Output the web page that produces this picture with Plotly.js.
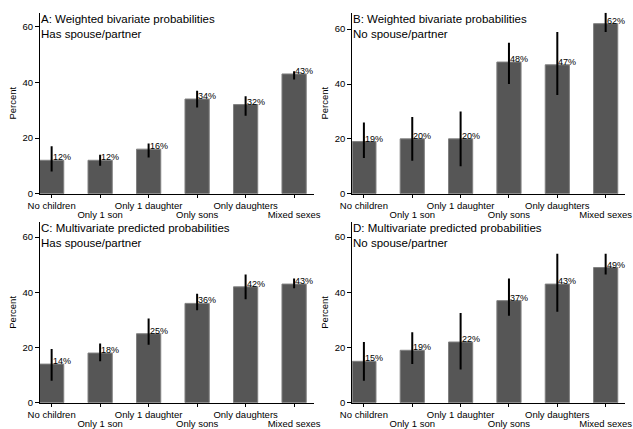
<!DOCTYPE html>
<html>
<head>
<meta charset="utf-8">
<script src="https://cdn.plot.ly/plotly-3.0.1.min.js"></script>
<style>html,body{margin:0;padding:0;background:#fff;}#chart{width:633px;height:429px;}</style>
</head>
<body>
<div id="chart"></div>
<script>
const categories = ['No children', 'Only 1 son', 'Only 1 daughter', 'Only sons', 'Only daughters', 'Mixed sexes'];

const titleA = 'A: Weighted bivariate probabilities<br>Has spouse/partner';
const valsA = [12, 12, 16, 34, 32, 43];
const loA   = [8, 10, 13, 31, 28, 41];
const hiA   = [17, 14, 18, 37, 35, 44];

const titleB = 'B: Weighted bivariate probabilities<br>No spouse/partner';
const valsB = [19, 20, 20, 48, 47, 62];
const loB   = [13, 12, 10, 40, 36, 59];
const hiB   = [26, 28, 30, 55, 59, 66];

const titleC = 'C: Multivariate predicted probabilities<br>Has spouse/partner';
const valsC = [14, 18, 25, 36, 42, 43];
const loC   = [8, 15, 21, 33.5, 37.5, 41.5];
const hiC   = [19.5, 21.5, 30.5, 39.5, 46.5, 45];

const titleD = 'D: Multivariate predicted probabilities<br>No spouse/partner';
const valsD = [15, 19, 22, 37, 43, 49];
const loD   = [8, 14, 12, 31.5, 33, 46.5];
const hiD   = [22, 25.5, 32.5, 45, 54, 54];

const yTickVals = [0, 20, 40, 60];

const W = 633, H = 429;
const FONT = 'Liberation Sans, Arial, sans-serif';

const panels = [
  {title: titleA, vals: valsA, lo: loA, hi: hiA, x: [40, 313.5], y: [12.7, 193.7], ymax: 65},
  {title: titleB, vals: valsB, lo: loB, hi: hiB, x: [352.3, 625], y: [12.7, 193.7], ymax: 66},
  {title: titleC, vals: valsC, lo: loC, hi: hiC, x: [40, 313.5], y: [222, 402.7], ymax: 65.5},
  {title: titleD, vals: valsD, lo: loD, hi: hiD, x: [352.3, 625], y: [222, 402.7], ymax: 65.5}
];

const traces = [];
const annotations = [];
const layout = {
  width: W, height: H,
  margin: {l: 0, r: 0, t: 0, b: 0},
  paper_bgcolor: '#fff', plot_bgcolor: '#fff',
  showlegend: false,
  font: {family: FONT, color: '#000', size: 9.5},
  annotations: annotations,
  bargap: 0.5
};

const xRange = [-0.24, 5.4];

panels.forEach((p, k) => {
  const n = k + 1;
  const xs = n === 1 ? '' : String(n);
  const xa = 'x' + xs, ya = 'y' + xs;
  const ovN = n + 4;
  traces.push({
    type: 'bar',
    x: categories,
    y: p.vals,
    xaxis: xa, yaxis: ya,
    width: 0.5,
    marker: {color: '#565656', line: {color: '#808080', width: 1}},
    error_y: {
      type: 'data', symmetric: false,
      array: p.hi.map((h, i) => h - p.vals[i]),
      arrayminus: p.lo.map((l, i) => p.vals[i] - l),
      color: '#000', thickness: 2, width: 0
    },
    hoverinfo: 'skip'
  });
  // invisible companion trace so the staggered-label axis is drawn
  traces.push({
    type: 'scatter', mode: 'markers',
    x: categories, y: p.vals,
    xaxis: 'x' + ovN, yaxis: ya,
    marker: {opacity: 0, size: 1},
    hoverinfo: 'skip'
  });
  const xdom = [p.x[0] / W, p.x[1] / W];
  const ydom = [1 - p.y[1] / H, 1 - p.y[0] / H];
  layout['xaxis' + xs] = {
    domain: xdom, anchor: ya, type: 'category', range: xRange,
    categoryorder: 'array', categoryarray: categories,
    tickmode: 'array', tickvals: categories,
    ticktext: categories.map((c, i) => i % 2 === 0 ? c : ''),
    ticks: 'outside', ticklen: 3, tickwidth: 1, tickcolor: '#000',
    showline: true, linecolor: '#000', linewidth: 1,
    showgrid: false, zeroline: false,
    tickfont: {family: FONT, size: 9.5, color: '#000'},
    fixedrange: true
  };
  layout['xaxis' + ovN] = {
    overlaying: xa, anchor: ya, type: 'category', range: xRange,
    categoryorder: 'array', categoryarray: categories,
    tickmode: 'array', tickvals: categories.filter((c, i) => i % 2 === 1),
    ticktext: categories.filter((c, i) => i % 2 === 1),
    ticks: 'outside', ticklen: 12, tickcolor: 'rgba(0,0,0,0)',
    showline: false, showgrid: false, zeroline: false,
    tickfont: {family: FONT, size: 9.5, color: '#000'},
    fixedrange: true
  };
  layout['yaxis' + xs] = {
    domain: ydom, anchor: xa, range: [0, p.ymax],
    tickmode: 'array', tickvals: yTickVals,
    ticks: 'outside', ticklen: 4, tickwidth: 1, tickcolor: '#000',
    showline: true, linecolor: '#000', linewidth: 1,
    showgrid: false, zeroline: false,
    tickfont: {family: FONT, size: 9.5, color: '#000'},
    title: {text: 'Percent', font: {family: FONT, size: 9.5, color: '#000'}, standoff: 4},
    fixedrange: true
  };
  annotations.push({
    xref: 'paper', yref: 'paper', x: xdom[0], y: ydom[1],
    xanchor: 'left', yanchor: 'top', align: 'left', showarrow: false,
    xshift: 0, yshift: 1, borderpad: 0,
    text: p.title, font: {family: FONT, size: 11.5, color: '#000'}
  });
  p.vals.forEach((v, i) => {
    annotations.push({
      xref: xa, yref: ya, x: categories[i], y: v,
      xanchor: 'left', yanchor: 'middle', showarrow: false,
      xshift: 0, yshift: 3, borderpad: 0,
      text: v + '%', font: {family: FONT, size: 9, color: '#000'}
    });
  });
});

Plotly.newPlot('chart', traces, layout, {displayModeBar: false, staticPlot: true});
</script>
</body>
</html>
